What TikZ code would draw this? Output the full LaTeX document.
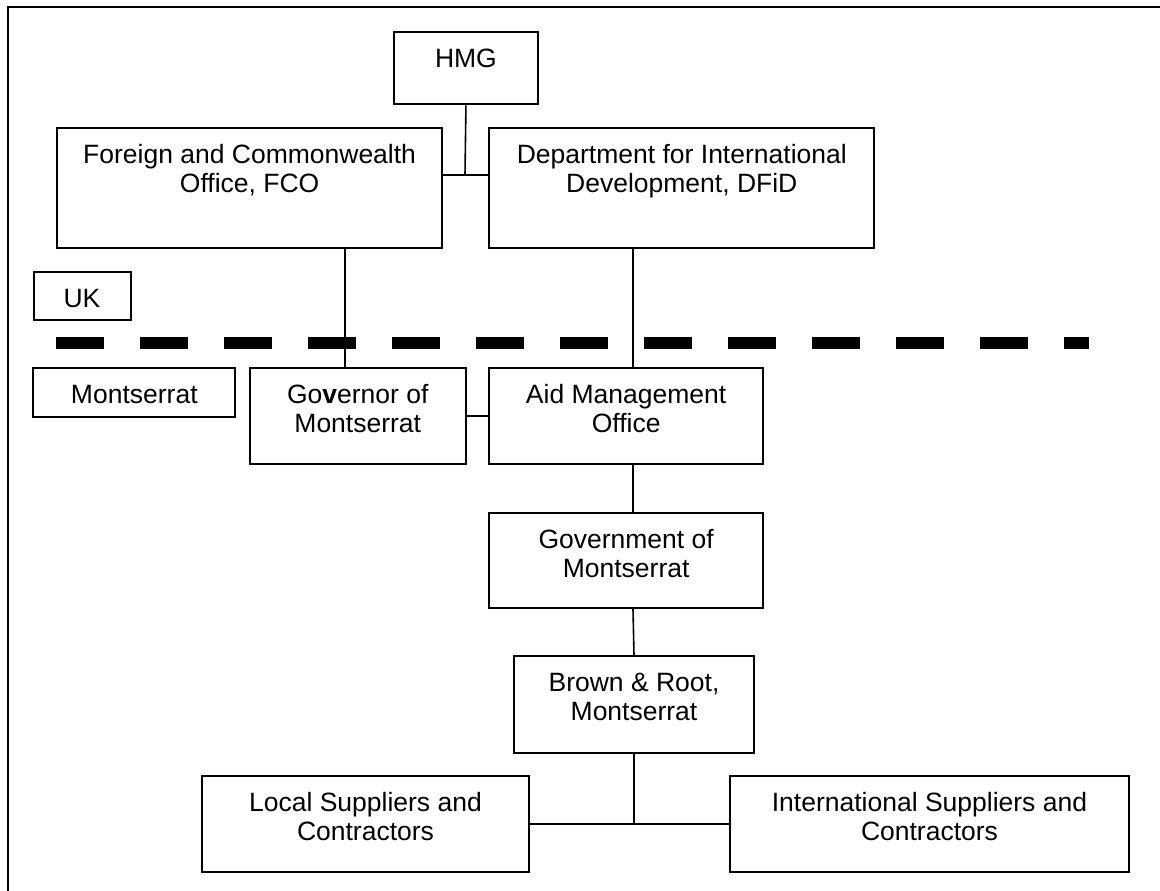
\documentclass[tikz,border=0pt]{standalone}
\usepackage{fontspec}
\setmainfont{Liberation Sans}
\newcommand{\orgtext}[3]{\parbox[c][#2][t]{#1}{\centering\rule{0pt}{35pt}#3\par}}
\tikzset{
  orgbox/.style={draw,line width=2pt,inner sep=0pt,anchor=north west,font=\fontsize{26.5}{29}\selectfont},
  link/.style={line width=1.6pt}
}

\begin{document}
\begin{tikzpicture}[x=1pt,y=-1pt]
        \useasboundingbox (0,0) rectangle (1160,891);
        \draw[line width=2pt] (8,891)--(8,7)--(1160,7);
        \node[orgbox] (hmg) at (392.6,31){\orgtext{144.7pt}{72.3pt}{HMG}};
        \node[orgbox] (fco) at (56.3,127){\orgtext{384.6pt}{120pt}{Foreign and Commonwealth\\Office, FCO}};
        \node[orgbox] (dfid) at (488.3,127){\orgtext{385pt}{120pt}{Department for International\\Development, DFiD}};
        \node[orgbox] (uk) at (32.5,271){\orgtext{97pt}{48pt}{UK}};
        \node[orgbox] (mont) at (32.3,367){\orgtext{202pt}{49pt}{Montserrat}};
        \node[orgbox] (gov) at (248.5,367){\orgtext{216.5pt}{96pt}{Go\textbf{v}ernor of\\Montserrat}};
        \node[orgbox] (amo) at (488.3,367){\orgtext{273.7pt}{96pt}{Aid Management\\Office}};
        \node[orgbox] (govt) at (488.3,512){\orgtext{273.7pt}{95pt}{Government of\\Montserrat}};
        \node[orgbox] (brown) at (512.7,655.3){\orgtext{240.6pt}{96.4pt}{Brown \& Root,\\Montserrat}};
        \node[orgbox] (local) at (200.7,775){\orgtext{327.6pt}{96pt}{Local Suppliers and\\Contractors}};
        \node[orgbox] (intl) at (728.7,775){\orgtext{399.6pt}{96pt}{International Suppliers and\\Contractors}};
        % UK / Montserrat border
        \draw[line width=12pt,dash pattern=on 48pt off 36pt] (56.3,343)--(1089,343);
        \coordinate (hmgjoin) at (465,175);
        \coordinate (fcoleg) at (345,0);
        \coordinate (spine) at (633,0);
        \draw[link] (hmg.south)--(hmgjoin);
        \draw[link] (fco.east |- hmgjoin)--(dfid.west |- hmgjoin);
        \draw[link] (fco.south -| fcoleg)--(gov.north -| fcoleg);
        \draw[link] (dfid.south -| spine)--(amo.north -| spine);
        \draw[link] (gov.east)--(amo.west);
        \draw[link] (amo.south -| spine)--(govt.north -| spine);
        \draw[link] (govt.south -| spine)--(brown.north);
        \draw[link] (brown.south)--(brown.south |- local.east);
        \draw[link] (local.east)--(intl.west);
      \end{tikzpicture}
\end{document}
